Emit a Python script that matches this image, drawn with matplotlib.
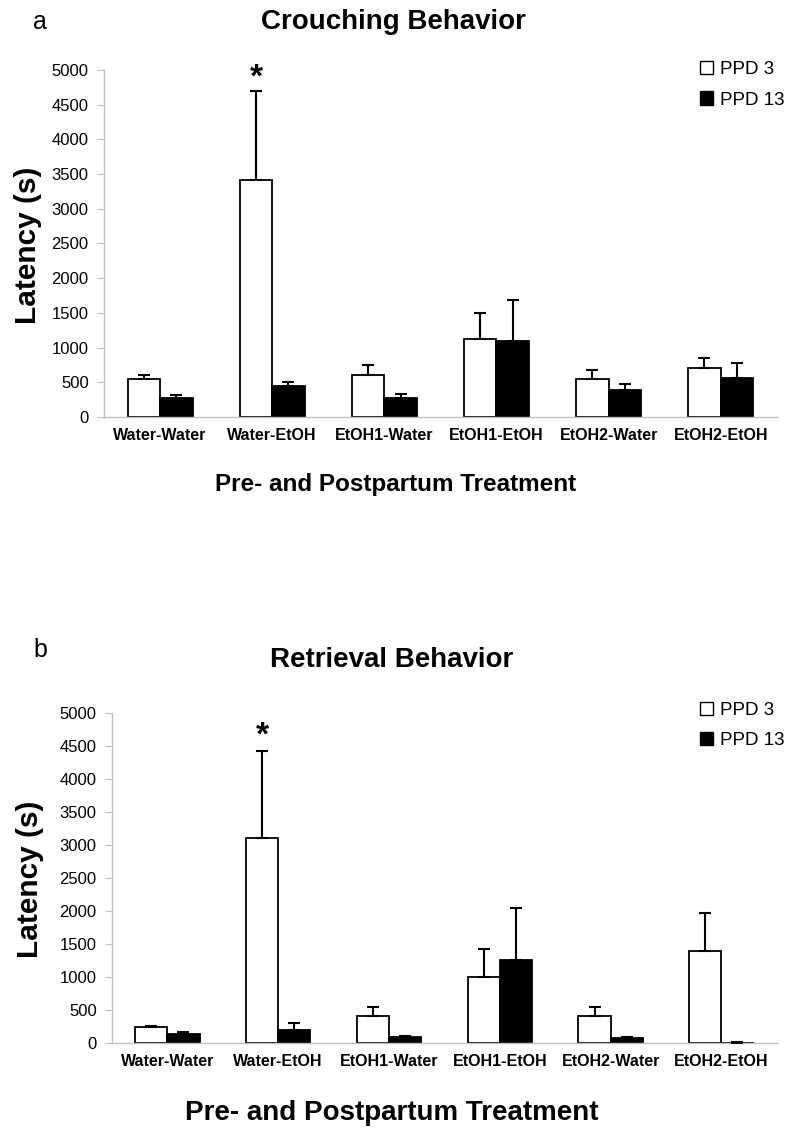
import numpy as np
import matplotlib
matplotlib.use("Agg")
import matplotlib.pyplot as plt
from matplotlib.patches import Patch

plt.rcParams['font.family'] = ['Liberation Sans', 'DejaVu Sans']

# Data (latency in seconds)
groups = ['Water-Water', 'Water-EtOH', 'EtOH1-Water', 'EtOH1-EtOH', 'EtOH2-Water', 'EtOH2-EtOH']
series = ['PPD 3', 'PPD 13']

crouch_ppd3 = [540, 3420, 600, 1120, 540, 700]
crouch_ppd3_top = [600, 4700, 750, 1500, 680, 850]
crouch_ppd13 = [270, 440, 270, 1100, 390, 560]
crouch_ppd13_top = [310, 500, 330, 1680, 470, 770]

retr_ppd3 = [240, 3100, 410, 1000, 410, 1390]
retr_ppd3_top = [260, 4430, 540, 1430, 540, 1970]
retr_ppd13 = [130, 190, 90, 1260, 70, 5]
retr_ppd13_top = [170, 310, 110, 2040, 90, 20]

yticks = [0, 500, 1000, 1500, 2000, 2500, 3000, 3500, 4000, 4500, 5000]
GRAY = '#c0c0c0'


def draw_panel(ax, v3, t3, v13, t13, star_gap):
    x = np.arange(len(groups))
    w = 0.29
    ax.bar(x - w / 2, v3, w, color='white', edgecolor='black', linewidth=1.3, zorder=2)
    ax.bar(x + w / 2, v13, w, color='black', edgecolor='black', linewidth=1.3, zorder=2)
    # upward-only error bars
    e3 = np.array(t3) - np.array(v3)
    e13 = np.array(t13) - np.array(v13)
    ax.errorbar(x - w / 2, v3, yerr=[np.zeros(len(x)), e3], fmt='none',
                ecolor='black', elinewidth=1.5, capsize=4.5, capthick=1.5, zorder=3)
    ax.errorbar(x + w / 2, v13, yerr=[np.zeros(len(x)), e13], fmt='none',
                ecolor='black', elinewidth=1.5, capsize=4.5, capthick=1.5, zorder=3)

    ax.set_xlim(-0.5, len(groups) - 0.5)
    ax.set_ylim(0, 5000)
    ax.set_yticks(yticks)
    ax.set_yticklabels([str(t) for t in yticks], fontsize=12)
    ax.set_xticks(x)
    ax.set_xticklabels(groups, fontsize=11.5, fontweight='bold')
    ax.tick_params(axis='x', length=0, pad=8)
    ax.tick_params(axis='y', length=5, color=GRAY, pad=6)
    for s in ['top', 'right']:
        ax.spines[s].set_visible(False)
    for s in ['left', 'bottom']:
        ax.spines[s].set_color(GRAY)
        ax.spines[s].set_linewidth(1.0)

    # significance marker above the Water-EtOH PPD 3 bar
    ax.text(1 - w / 2, t3[1] + star_gap, '*', ha='center', va='bottom',
            fontsize=24, fontweight='bold')


fig = plt.figure(figsize=(8, 11.42), dpi=100)

ax_a = fig.add_axes([0.13, 0.6349, 0.841, 0.3039])
draw_panel(ax_a, crouch_ppd3, crouch_ppd3_top, crouch_ppd13, crouch_ppd13_top, -40)

ax_b = fig.add_axes([0.14, 0.0867, 0.831, 0.289])
draw_panel(ax_b, retr_ppd3, retr_ppd3_top, retr_ppd13, retr_ppd13_top, -20)

handles = [Patch(facecolor='white', edgecolor='black', linewidth=1.0),
           Patch(facecolor='black', edgecolor='black', linewidth=1.0)]
for top in (0.953, 0.392):
    fig.legend(handles, series, loc='upper left', bbox_to_anchor=(0.866, top),
               frameon=False, fontsize=13.5, handlelength=0.7, handleheight=0.7,
               handletextpad=0.35, labelspacing=0.7, borderaxespad=0)

# panel letters, titles and axis labels
fig.text(0.05, 0.981, 'a', fontsize=18, ha='center', va='center')
fig.text(0.05, 0.431, 'b', fontsize=18, ha='center', va='center')
fig.text(0.492, 0.981, 'Crouching Behavior', fontsize=20, fontweight='bold', ha='center', va='center')
fig.text(0.49, 0.422, 'Retrieval Behavior', fontsize=20, fontweight='bold', ha='center', va='center')
fig.text(0.035, 0.785, 'Latency (s)', fontsize=21.5, fontweight='bold', rotation=90, ha='center', va='center')
fig.text(0.038, 0.23, 'Latency (s)', fontsize=21.5, fontweight='bold', rotation=90, ha='center', va='center')
fig.text(0.494, 0.576, 'Pre- and Postpartum Treatment', fontsize=17.5, fontweight='bold', ha='center', va='center')
fig.text(0.49, 0.025, 'Pre- and Postpartum Treatment', fontsize=20, fontweight='bold', ha='center', va='center')

fig.savefig('out.png', dpi=100)
